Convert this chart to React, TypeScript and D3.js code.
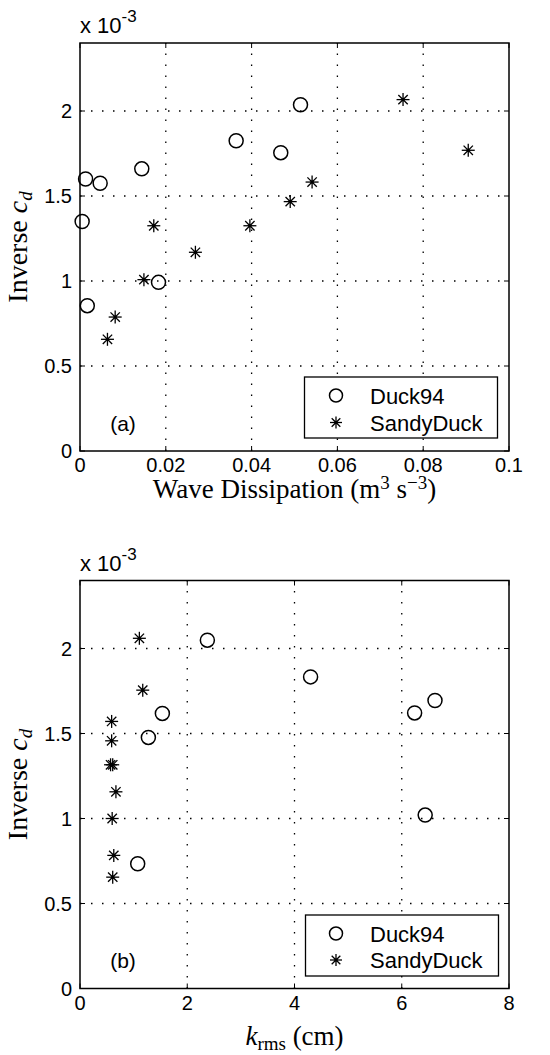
import React from "react";
import * as d3 from "d3";

// Panel (a): wave dissipation (m^3 s^-3) vs inverse c_d (x 10^-3)
const duck94DissX = [0.0005, 0.0013, 0.0047, 0.0144, 0.0364, 0.0468, 0.0514, 0.0017, 0.0183];
const duck94DissY = [1.35, 1.6, 1.575, 1.66, 1.825, 1.755, 2.037, 0.855, 0.992];
const sandyDissX = [0.0172, 0.0396, 0.0269, 0.049, 0.0541, 0.0753, 0.0905, 0.0149, 0.0082, 0.0064];
const sandyDissY = [1.325, 1.325, 1.169, 1.467, 1.582, 2.067, 1.769, 1.008, 0.788, 0.657];

// Panel (b): k_rms (cm) vs inverse c_d (x 10^-3)
const duck94KX = [2.375, 4.3, 6.24, 6.62, 1.536, 1.275, 1.076, 6.437];
const duck94KY = [2.049, 1.833, 1.621, 1.694, 1.618, 1.477, 0.734, 1.02];
const sandyKX = [1.107, 1.17, 0.59, 0.59, 0.57, 0.61, 0.67, 0.6, 0.63, 0.61];
const sandyKY = [2.06, 1.755, 1.571, 1.457, 1.316, 1.316, 1.157, 1.0, 0.783, 0.655];

const yTicks = [0, 0.5, 1, 1.5, 2];
const yTickLabels = ["0", "0.5", "1", "1.5", "2"];
const xTicksA = [0, 0.02, 0.04, 0.06, 0.08, 0.1];
const xTickLabelsA = ["0", "0.02", "0.04", "0.06", "0.08", "0.1"];
const xTicksB = [0, 2, 4, 6, 8];
const xTickLabelsB = ["0", "2", "4", "6", "8"];
const seriesNames = ["Duck94", "SandyDuck"];

const SANS = "'Liberation Sans', Arial, Helvetica, sans-serif";
const SERIF = "'Liberation Serif', 'Times New Roman', serif";

function Asterisk({ x, y, s = 6.5 }: { x: number; y: number; s?: number }) {
  const d = s * 0.72;
  return (
    <g stroke="#000" strokeWidth={1.3}>
      <line x1={x - s} y1={y} x2={x + s} y2={y} />
      <line x1={x} y1={y - s} x2={x} y2={y + s} />
      <line x1={x - d} y1={y - d} x2={x + d} y2={y + d} />
      <line x1={x - d} y1={y + d} x2={x + d} y2={y - d} />
      <circle cx={x} cy={y} r={1.8} fill="#000" stroke="none" />
    </g>
  );
}

function Circle({ x, y, r = 7 }: { x: number; y: number; r?: number }) {
  return <circle cx={x} cy={y} r={r} fill="none" stroke="#000" strokeWidth={1.5} />;
}

type PanelProps = {
  top: number;
  bottom: number;
  xDomain: [number, number];
  xTicks: number[];
  xTickLabels: string[];
  circX: number[];
  circY: number[];
  starX: number[];
  starY: number[];
  tag: string;
  xLabel: React.ReactNode;
  xLabelY: number;
  legend: { x0: number; x1: number; y0: number; y1: number; r1: number; r2: number };
};

function Panel(p: PanelProps) {
  const left = 80;
  const right = 509;
  const x = d3.scaleLinear().domain(p.xDomain).range([left, right]);
  const y = d3.scaleLinear().domain([0, 2.4]).range([p.bottom, p.top]);
  const tickLen = 5;
  const grid = "1.5,9.5";
  const cy = (p.top + p.bottom) / 2;
  return (
    <g>
      {/* grid */}
      {p.xTicks.slice(1, -1).map((t) => (
        <line key={"gx" + t} x1={x(t)} x2={x(t)} y1={p.bottom} y2={p.top} stroke="#000" strokeWidth={1.3} strokeDasharray={grid} />
      ))}
      {yTicks.slice(1).map((t) => (
        <line key={"gy" + t} x1={left} x2={right} y1={y(t)} y2={y(t)} stroke="#000" strokeWidth={1.3} strokeDasharray={grid} />
      ))}
      {/* ticks */}
      {p.xTicks.map((t) => (
        <g key={"tx" + t} stroke="#000" strokeWidth={1}>
          <line x1={x(t)} x2={x(t)} y1={p.bottom} y2={p.bottom - tickLen} />
          <line x1={x(t)} x2={x(t)} y1={p.top} y2={p.top + tickLen} />
        </g>
      ))}
      {yTicks.map((t) => (
        <g key={"ty" + t} stroke="#000" strokeWidth={1}>
          <line x1={left} x2={left + tickLen} y1={y(t)} y2={y(t)} />
          <line x1={right} x2={right - tickLen} y1={y(t)} y2={y(t)} />
        </g>
      ))}
      {/* box */}
      <rect x={left} y={p.top} width={right - left} height={p.bottom - p.top} fill="none" stroke="#000" strokeWidth={1.5} />
      {/* tick labels */}
      {p.xTicks.map((t, i) => (
        <text key={"lx" + t} x={x(t)} y={p.bottom + 21} fontFamily={SANS} fontSize={20} textAnchor="middle">
          {p.xTickLabels[i]}
        </text>
      ))}
      {yTicks.map((t, i) => (
        <text key={"ly" + t} x={72} y={y(t) + 7} fontFamily={SANS} fontSize={20} textAnchor="end">
          {yTickLabels[i]}
        </text>
      ))}
      {/* exponent */}
      <text x={80} y={p.top - 10} fontFamily={SANS} fontSize={22}>
        x 10
        <tspan fontSize={17} dy={-11}>-3</tspan>
      </text>
      {/* y label */}
      <text transform={`translate(27,${cy}) rotate(-90)`} fontFamily={SERIF} fontSize={28} textAnchor="middle">
        Inverse <tspan fontStyle="italic">c</tspan>
        <tspan fontStyle="italic" fontSize={19} dy={5}>d</tspan>
      </text>
      {/* x label */}
      <text x={(left + right) / 2} y={p.xLabelY} fontFamily={SERIF} fontSize={27} textAnchor="middle">
        {p.xLabel}
      </text>
      {/* data */}
      {p.circX.map((v, i) => (
        <Circle key={"c" + i} x={x(v)} y={y(p.circY[i])} />
      ))}
      {p.starX.map((v, i) => (
        <Asterisk key={"s" + i} x={x(v)} y={y(p.starY[i])} />
      ))}
      {/* tag */}
      <text x={123} y={p.legend.r2 + 8} fontFamily={SANS} fontSize={21} textAnchor="middle">
        {p.tag}
      </text>
      {/* legend */}
      <rect x={p.legend.x0} y={p.legend.y0} width={p.legend.x1 - p.legend.x0} height={p.legend.y1 - p.legend.y0} fill="#fff" stroke="#000" strokeWidth={1.3} />
      <Circle x={336} y={p.legend.r1} r={6.5} />
      <Asterisk x={336} y={p.legend.r2} s={6} />
      <text x={370} y={p.legend.r1 + 8} fontFamily={SANS} fontSize={22}>{seriesNames[0]}</text>
      <text x={370} y={p.legend.r2 + 8} fontFamily={SANS} fontSize={22}>{seriesNames[1]}</text>
    </g>
  );
}

export default function App() {
  return (
    <svg width={550} height={1055} style={{ position: "absolute", left: 0, top: 0, background: "#fff" }}>
      <rect width={550} height={1055} fill="#fff" />
      <Panel
        top={43}
        bottom={451}
        xDomain={[0, 0.1]}
        xTicks={xTicksA}
        xTickLabels={xTickLabelsA}
        circX={duck94DissX}
        circY={duck94DissY}
        starX={sandyDissX}
        starY={sandyDissY}
        tag="(a)"
        xLabelY={498}
        xLabel={
          <>
            Wave Dissipation (m<tspan fontSize={19} dy={-9}>3</tspan>
            <tspan dy={9}> s</tspan>
            <tspan fontSize={19} dy={-9}>−3</tspan>
            <tspan dy={9}>)</tspan>
          </>
        }
        legend={{ x0: 304.5, x1: 497.5, y0: 377, y1: 438, r1: 395.5, r2: 422.5 }}
      />
      <Panel
        top={580.5}
        bottom={988.5}
        xDomain={[0, 8]}
        xTicks={xTicksB}
        xTickLabels={xTickLabelsB}
        circX={duck94KX}
        circY={duck94KY}
        starX={sandyKX}
        starY={sandyKY}
        tag="(b)"
        xLabelY={1045}
        xLabel={
          <>
            <tspan fontStyle="italic">k</tspan>
            <tspan fontSize={19} dy={5}>rms</tspan>
            <tspan dy={-5}> (cm)</tspan>
          </>
        }
        legend={{ x0: 305.5, x1: 498.5, y0: 915, y1: 976, r1: 933.5, r2: 960 }}
      />
    </svg>
  );
}
